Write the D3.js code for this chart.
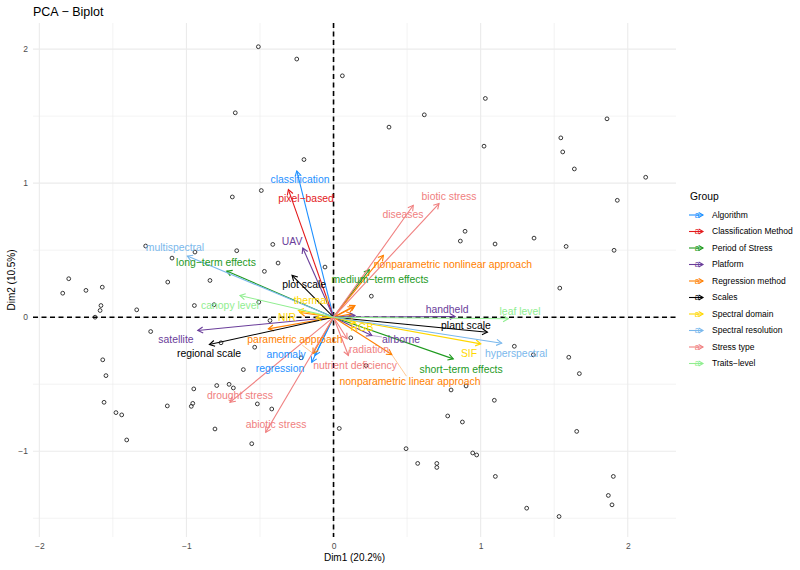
<!DOCTYPE html>
<html><head><meta charset="utf-8">
<script src="https://cdn.jsdelivr.net/npm/d3@7"></script>
<style>body{margin:0;background:#fff}svg{font-family:"Liberation Sans",Arial,sans-serif}</style>
</head><body><svg id="chart" width="800" height="570"></svg>
<script>
// ---------- data ----------
const groups = ["Algorithm","Classification Method","Period of Stress","Platform","Regression method","Scales","Spectral domain","Spectral resolution","Stress type","Traits-level"];
const groupColors = ["#1E90FF","#E31A1C","#1E9A1E","#6A3D9A","#FF7F00","#000000","#FFD700","#7AB8EC","#F08080","#90EE90"];

const varNames = ["classification","regression","anomaly","pixel-based","long-term effects","medium-term effects","short-term effects","UAV","satellite","handheld","airborne","parametric approach","nonparametric nonlinear approach","nonparametric linear approach","plot scale","regional scale","plant scale","thermal","NIR","SIF","RGB","multispectral","hyperspectral","biotic stress","diseases","drought stress","abiotic stress","radiation","nutrient deficiency","canopy level","leaf level"];
const varGroups = ["Algorithm","Algorithm","Algorithm","Classification Method","Period of Stress","Period of Stress","Period of Stress","Platform","Platform","Platform","Platform","Regression method","Regression method","Regression method","Scales","Scales","Scales","Spectral domain","Spectral domain","Spectral domain","Spectral domain","Spectral resolution","Spectral resolution","Stress type","Stress type","Stress type","Stress type","Stress type","Stress type","Traits-level","Traits-level"];
const varDim1 = [-0.250,-0.148,-0.126,-0.307,-0.726,0.243,0.814,-0.209,-0.923,0.826,0.260,-0.139,0.339,0.396,-0.282,-0.844,1.046,-0.239,-0.120,1.001,0.146,-0.994,1.143,0.717,0.542,-0.704,-0.461,0.101,0.092,-0.636,1.188];
const varDim2 = [1.091,-0.336,-0.286,0.952,0.344,0.354,-0.311,0.516,-0.099,0.005,-0.137,-0.271,0.461,-0.279,0.312,-0.204,-0.112,0.050,-0.005,-0.199,-0.040,0.456,-0.194,0.848,0.835,-0.635,-0.859,-0.286,-0.161,0.162,-0.012];
// label positions (data units, after repel)
const labDim1 = [-0.228,-0.364,-0.323,-0.187,-0.799,0.316,0.867,-0.282,-1.071,0.772,0.459,-0.262,0.812,0.520,-0.200,-0.846,0.900,-0.153,-0.316,0.921,0.194,-1.078,1.241,0.785,0.472,-0.636,-0.391,0.241,0.146,-0.704,1.268];
const labDim2 = [1.029,-0.383,-0.279,0.887,0.409,0.282,-0.391,0.566,-0.166,0.058,-0.166,-0.166,0.394,-0.480,0.244,-0.271,-0.062,0.125,0.000,-0.271,-0.077,0.521,-0.271,0.902,0.768,-0.585,-0.802,-0.241,-0.361,0.087,0.043];
const segmentLabels = ["parametric approach","nonparametric linear approach","airborne"];

// variables whose labels were dropped (overlap)
const hiddenGroups = ["Regression method","Regression method","Regression method","Regression method","Regression method","Platform"];
const hiddenDim1 = [-0.443,-0.228,0.135,0.146,0.124,0.146];
const hiddenDim2 = [-0.087,0.035,0.075,0.087,0.025,0.013];

// individuals
const indDim1 = [-0.511,-0.250,0.060,-0.668,0.377,-0.201,-0.491,-0.688,-1.277,-0.658,-0.413,-1.098,-0.942,-0.377,-0.470,-0.058,-1.800,-1.572,-1.127,-0.840,-1.683,-1.841,-1.581,-1.587,-1.621,-1.338,-0.946,-0.812,-0.508,-0.432,0.257,-1.243,-0.765,-0.536,-1.569,-1.547,-0.613,-0.221,0.117,0.221,-0.950,-0.794,-0.710,-0.681,-1.560,-1.479,-1.440,-1.130,-0.957,-0.967,-0.518,-0.420,-0.806,-1.406,-0.556,0.039,1.032,0.617,1.859,1.023,1.545,1.558,1.637,2.122,1.929,0.894,0.862,1.098,1.363,1.581,1.907,1.538,1.229,1.358,1.599,1.671,0.799,0.901,1.093,0.776,0.876,1.653,0.493,0.572,0.702,0.702,0.946,0.973,1.100,1.902,1.868,1.893,1.313,1.533];
const indDim2 = [2.018,1.926,1.801,1.525,1.418,1.176,0.945,0.897,0.531,0.496,0.543,0.441,0.486,0.404,0.342,0.374,0.287,0.224,0.262,0.274,0.200,0.179,0.087,0.050,0.000,0.055,0.087,0.093,0.112,-0.025,0.157,-0.107,-0.191,-0.224,-0.318,-0.436,-0.391,-0.303,-0.154,-0.361,-0.535,-0.510,-0.501,-0.528,-0.635,-0.712,-0.729,-0.662,-0.643,-0.665,-0.647,-0.685,-0.834,-0.916,-0.944,-0.830,1.632,1.510,1.480,1.276,1.338,1.233,1.106,1.044,0.872,0.641,0.568,0.546,0.590,0.528,0.499,0.217,-0.217,-0.281,-0.299,-0.421,-0.543,-0.513,-0.620,-0.737,-0.782,-0.852,-0.981,-1.091,-1.091,-1.121,-1.013,-1.028,-1.188,-1.188,-1.330,-1.400,-1.425,-1.487];

const xTicks = [-2,-1,0,1,2];
const yTicks = [-1,0,1,2];
const xMinor = [-1.5,-0.5,0.5,1.5];
const yMinor = [-1.5,-0.5,0.5,1.5];
const titleText = "PCA - Biplot";
const xTitle = "Dim1 (20.2%)";
const yTitle = "Dim2 (10.5%)";
const legendTitle = "Group";

// ---------- drawing ----------
const disp = s => s.replace(/-/g, "\u2212");
const svg = d3.select("#chart");
svg.append("rect").attr("width",800).attr("height",570).attr("fill","#fff");
const P = {l:33, r:676, t:23, b:537};
const x = d3.scaleLinear().domain([-2.043, 2.328]).range([P.l, P.r]);
const y = d3.scaleLinear().domain([-1.64, 2.195]).range([P.b, P.t]);
const color = d3.scaleOrdinal().domain(groups).range(groupColors);

// grid
const g = svg.append("g");
g.selectAll(".vmin").data(xMinor).join("line").attr("x1",d=>x(d)).attr("x2",d=>x(d)).attr("y1",P.t).attr("y2",P.b).attr("stroke","#EBEBEB").attr("stroke-width",0.6);
g.selectAll(".hmin").data(yMinor).join("line").attr("y1",d=>y(d)).attr("y2",d=>y(d)).attr("x1",P.l).attr("x2",P.r).attr("stroke","#EBEBEB").attr("stroke-width",0.6);
g.selectAll(".vmaj").data(xTicks).join("line").attr("x1",d=>x(d)).attr("x2",d=>x(d)).attr("y1",P.t).attr("y2",P.b).attr("stroke","#EBEBEB").attr("stroke-width",1.1);
g.selectAll(".hmaj").data(yTicks).join("line").attr("y1",d=>y(d)).attr("y2",d=>y(d)).attr("x1",P.l).attr("x2",P.r).attr("stroke","#EBEBEB").attr("stroke-width",1.1);

// axes
const fmt = d => d < 0 ? "\u2212" + Math.abs(d) : String(d);
const ax = svg.append("g").attr("transform",`translate(0,${P.b})`).call(d3.axisBottom(x).tickValues(xTicks).tickSize(0).tickPadding(6).tickFormat(fmt));
const ay = svg.append("g").attr("transform",`translate(${P.l},0)`).call(d3.axisLeft(y).tickValues(yTicks).tickSize(0).tickPadding(5).tickFormat(fmt));
[ax, ay].forEach(a => { a.select(".domain").remove(); a.selectAll("text").attr("fill","#4D4D4D").style("font-size","8.5px").style("font-family","Liberation Sans, Arial, sans-serif"); });

// individuals
svg.append("g").selectAll("circle").data(indDim1.map((d,i)=>[d, indDim2[i]])).join("circle")
  .attr("cx",d=>x(d[0])).attr("cy",d=>y(d[1])).attr("r",1.9)
  .attr("fill","none").attr("stroke","#222").attr("stroke-width",0.9);

// dashed axes lines
svg.append("line").attr("x1",x(0)).attr("x2",x(0)).attr("y1",P.t).attr("y2",P.b).attr("stroke","#000").attr("stroke-width",1.6).attr("stroke-dasharray","5,3.5");
svg.append("line").attr("y1",y(0)).attr("y2",y(0)).attr("x1",P.l).attr("x2",P.r).attr("stroke","#000").attr("stroke-width",1.6).attr("stroke-dasharray","5,3.5");

// arrow helper
function arrow(sel, x0, y0, x1, y1, col, head) {
  sel.append("line").attr("x1",x0).attr("y1",y0).attr("x2",x1).attr("y2",y1).attr("stroke",col).attr("stroke-width",1.1);
  const a = Math.atan2(y1-y0, x1-x0), L = head, w = Math.PI/6;
  sel.append("path").attr("d",`M${x1-L*Math.cos(a-w)},${y1-L*Math.sin(a-w)}L${x1},${y1}L${x1-L*Math.cos(a+w)},${y1-L*Math.sin(a+w)}`)
    .attr("fill","none").attr("stroke",col).attr("stroke-width",1.1);
}
const arrows = svg.append("g");
hiddenDim1.forEach((d,i)=> arrow(arrows, x(0), y(0), x(d), y(hiddenDim2[i]), color(hiddenGroups[i]), 6));
varDim1.forEach((d,i)=> arrow(arrows, x(0), y(0), x(d), y(varDim2[i]), color(varGroups[i]), 6));

// labels
const labs = svg.append("g");
varNames.forEach((n,i)=>{
  const col = color(varGroups[i]);
  const t = labs.append("text").attr("x",x(labDim1[i])).attr("y",y(labDim2[i])).attr("dy","0.35em")
    .attr("text-anchor","middle").attr("fill",col).style("font-size","10.4px").text(disp(n));
  if (segmentLabels.includes(n)) {
    const b = t.node().getBBox();
    const cx = b.x + b.width/2, cy = b.y + b.height/2;
    const tx = x(varDim1[i]), ty = y(varDim2[i]);
    const dx = tx - cx, dy = ty - cy;
    const s = Math.min(Math.abs((b.width/2)/ (dx||1e-9)), Math.abs((b.height/2)/(dy||1e-9)));
    labs.insert("line","text").attr("x1",cx+dx*s).attr("y1",cy+dy*s).attr("x2",tx).attr("y2",ty)
      .attr("stroke",col).attr("stroke-width",0.7).attr("opacity",0.6);
  }
});

// titles
svg.append("text").attr("x",33).attr("y",16).style("font-size","12.5px").attr("fill","#000").text(disp(titleText));
svg.append("text").attr("x",(P.l+P.r)/2).attr("y",561).attr("text-anchor","middle").style("font-size","10px").attr("fill","#000").text(xTitle);
svg.append("text").attr("transform",`translate(15,${(P.t+P.b)/2}) rotate(-90)`).attr("text-anchor","middle").style("font-size","10px").attr("fill","#000").text(yTitle);

// legend
const lg = svg.append("g");
lg.append("text").attr("x",690).attr("y",200).style("font-size","10.3px").attr("fill","#000").text(legendTitle);
groups.forEach((gname,i)=>{
  const cy = 215 + i*16.5, col = color(gname);
  arrow(lg, 689, cy, 703, cy, col, 5);
  lg.append("text").attr("x",697).attr("y",cy).attr("dy","0.35em").attr("text-anchor","middle").style("font-size","8.5px").attr("fill",col).text("a");
  lg.append("text").attr("x",712).attr("y",cy).attr("dy","0.35em").style("font-size","8.5px").attr("fill","#000").text(disp(gname));
});
</script></body></html>
